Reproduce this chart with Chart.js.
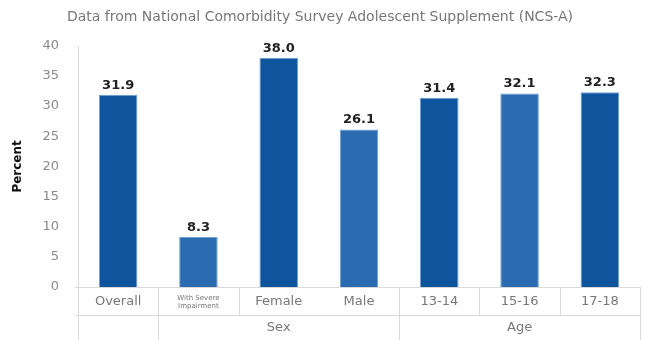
<!DOCTYPE html>
<html>
<head>
<meta charset="utf-8">
<script src="https://cdn.jsdelivr.net/npm/chart.js@4"></script>
<style>
  html, body { margin: 0; padding: 0; background: #fff; }
  #wrap { width: 645px; height: 340px; position: relative; }
</style>
</head>
<body>
<div id="wrap"><canvas id="c"></canvas></div>
<script>
const categories = ["Overall", ["With Severe", "Impairment"], "Female", "Male", "13-14", "15-16", "17-18"];
const values = [31.9, 8.3, 38.0, 26.1, 31.4, 32.1, 32.3];
const barColors = ["#0f559d", "#2b6baf", "#0f559d", "#2b6baf", "#0f559d", "#2b6baf", "#0f559d"];
const groupLabels = ["", "Sex", "Age"];
const groupSpans = [1, 3, 3];
const yTicks = [0, 5, 10, 15, 20, 25, 30, 35, 40];
const titleText = "Data from National Comorbidity Survey Adolescent Supplement (NCS-A)";

const lineColor = "#d9d9d9";
const fontFamily = "'DejaVu Sans', sans-serif";

// value labels above the bars
const valueLabels = {
  id: "valueLabels",
  afterDatasetsDraw(chart) {
    const ctx = chart.ctx;
    const meta = chart.getDatasetMeta(0);
    ctx.save();
    ctx.font = "bold 13px " + fontFamily;
    ctx.fillStyle = "#222";
    ctx.textAlign = "center";
    ctx.textBaseline = "bottom";
    meta.data.forEach((bar, i) => {
      ctx.fillText(values[i].toFixed(1), bar.x, bar.y - 3);
    });
    ctx.restore();
  }
};

// multi-level category table under the plot
const categoryTable = {
  id: "categoryTable",
  afterDraw(chart) {
    const ctx = chart.ctx;
    const x = chart.scales.x;
    const area = chart.chartArea;
    const w = (x.getPixelForValue(1) - x.getPixelForValue(0));
    const edge = i => x.getPixelForValue(0) - w / 2 + i * w;
    const rowY = area.bottom + 28;
    const endY = chart.height;
    ctx.save();
    ctx.strokeStyle = lineColor;
    ctx.lineWidth = 1;
    ctx.beginPath();
    // y axis line continues down through the table
    ctx.moveTo(edge(0) + 0.5, area.top);
    ctx.lineTo(edge(0) + 0.5, endY);
    ctx.moveTo(area.left - 3, area.bottom + 0.5);
    ctx.lineTo(edge(7), area.bottom + 0.5);
    ctx.moveTo(area.left - 3, rowY + 0.5);
    ctx.lineTo(edge(7), rowY + 0.5);
    // first row dividers (none between Female and Male)
    for (let i = 1; i <= 7; i++) {
      if (i === 3) continue;
      ctx.moveTo(Math.round(edge(i)) + 0.5, area.bottom);
      ctx.lineTo(Math.round(edge(i)) + 0.5, rowY);
    }
    // second row dividers
    let pos = 0;
    groupSpans.forEach(span => {
      pos += span;
      ctx.moveTo(Math.round(edge(pos)) + 0.5, rowY);
      ctx.lineTo(Math.round(edge(pos)) + 0.5, endY);
    });
    ctx.stroke();

    ctx.font = "13px " + fontFamily;
    ctx.fillStyle = "#777";
    ctx.textAlign = "center";
    ctx.textBaseline = "middle";
    pos = 0;
    groupSpans.forEach((span, g) => {
      const mid = (edge(pos) + edge(pos + span)) / 2;
      if (groupLabels[g]) ctx.fillText(groupLabels[g], mid, rowY + 13);
      pos += span;
    });
    ctx.restore();
  }
};

new Chart(document.getElementById("c"), {
  type: "bar",
  data: {
    labels: categories,
    datasets: [{
      data: values,
      backgroundColor: barColors,
      borderColor: "#6f9fd2",
      borderWidth: 1,
      barPercentage: 0.48,
      categoryPercentage: 1
    }]
  },
  options: {
    responsive: true,
    maintainAspectRatio: false,
    animation: false,
    layout: { padding: { left: 0, right: 5, top: 0, bottom: 0 } },
    plugins: {
      legend: { display: false },
      tooltip: { enabled: false },
      title: {
        display: true,
        text: titleText,
        color: "#777",
        font: { family: fontFamily, size: 14, weight: "normal" },
        padding: { top: 9, bottom: 20 }
      }
    },
    scales: {
      x: {
        grid: { display: false, drawTicks: false },
        border: { display: false },
        ticks: {
          color: "#777",
          padding: 7,
          maxRotation: 0,
          autoSkip: false,
          font: ctx => ctx.index === 1
            ? { family: fontFamily, size: 7, lineHeight: 1.2 }
            : { family: fontFamily, size: 13 }
        },
        afterFit: s => { s.height = 53; }
      },
      y: {
        min: 0,
        max: 40,
        grid: { display: false },
        border: { display: false },
        afterBuildTicks: s => { s.ticks = yTicks.map(v => ({ value: v })); },
        ticks: {
          color: "#8a8a8a",
          padding: 11,
          font: { family: fontFamily, size: 13 }
        },
        title: {
          display: true,
          text: "Percent",
          color: "#111",
          font: { family: fontFamily, size: 12, weight: "bold" },
          padding: { top: 11, bottom: 10 }
        },
        afterFit: s => { s.width = 78; }
      }
    }
  },
  plugins: [valueLabels, categoryTable]
});
</script>
</body>
</html>
